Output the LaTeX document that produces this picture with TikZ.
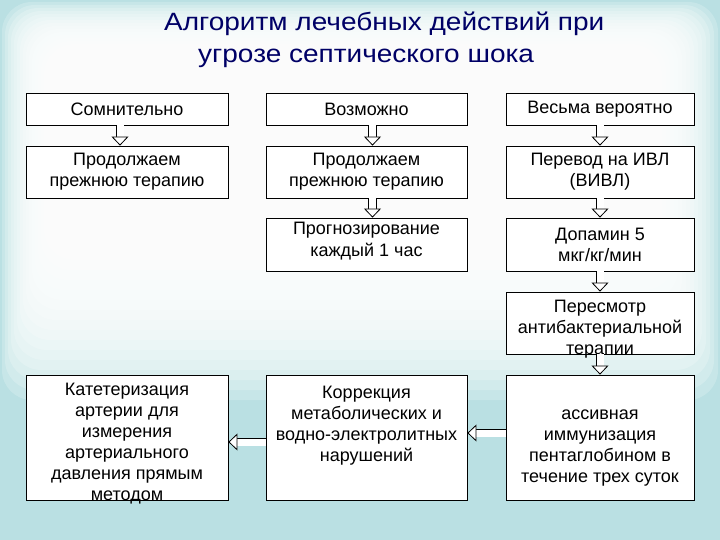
\documentclass[tikz,border=0pt]{standalone}
\usepackage{fontspec}
\setmainfont{Liberation Sans}
\newfontfamily\titlefont[FakeStretch=1.12]{Liberation Sans}
\usetikzlibrary{arrows.meta}
\definecolor{bgteal}{RGB}{186,224,227}
\definecolor{titleblue}{RGB}{0,0,102}
\begin{document}
\begin{tikzpicture}[
  x=1pt,y=-1pt,
  box/.style={draw, fill=white, line width=0.8pt, align=center, inner sep=0pt, font=\fontsize{18}{21}\selectfont},
  sunk/.style={text height=#1, text depth=0pt},
  hol/.style={double=white, double distance=7pt, line width=0.8pt, -{Triangle[fill=white, width=17pt, length=9pt, line width=0.8pt]}}
]
% background
\fill[bgteal] (0,0) rectangle (720,540);
\foreach \k in {0,...,14}
  \fill[white, opacity=0.2, rounded corners=30pt] (2+3*\k,2+3*\k) rectangle (718-4*\k,400-10*\k);
\useasboundingbox (0,0) rectangle (720,540);
% title
\node[font=\titlefont\fontsize{25}{32}\selectfont, text=titleblue, align=left, anchor=north west, inner sep=0pt] (title) at (164,12) {Алгоритм лечебных действий при\\\hspace*{34pt}угрозе септического шока};
% first row
\node[box, minimum width=202pt, minimum height=32pt] (doubt) at (127,109) {Сомнительно};
\node[box, minimum width=201pt, minimum height=32pt] (poss) at (366.5,109) {Возможно};
\node[box, minimum width=188pt, minimum height=32pt] (prob) at (600,109) {Весьма вероятно};
% second row
\node[box, minimum width=202pt, minimum height=52pt] (cont1) at (127,172) {Продолжаем\\прежнюю терапию};
\node[box, minimum width=201pt, minimum height=52pt] (cont2) at (366.5,172) {Продолжаем\\прежнюю терапию};
\node[box, minimum width=188pt, minimum height=52pt] (ivl) at (600,172) {Перевод на ИВЛ\\(ВИВЛ)};
% third and fourth row
\node[box, minimum width=201pt, minimum height=53pt, sunk=23pt] (prog) at (366.5,244.5) {Прогнозирование\\каждый 1 час};
\node[box, minimum width=188pt, minimum height=53pt] (dopa) at (600,244.5) {Допамин 5\\мкг/кг/мин};
\node[box, minimum width=188pt, minimum height=62pt, sunk=62pt] (abx) at (600,323) {Пересмотр\\антибактериальной\\терапии};
% last row
\node[box, minimum width=202pt, minimum height=125pt, sunk=125pt] (cath) at (127,437.5) {Катетеризация\\артерии для\\измерения\\артериального\\давления прямым\\методом};
\node[box, minimum width=201pt, minimum height=125pt, sunk=47pt] (corr) at (366.5,437.5) {Коррекция\\метаболических и\\водно-электролитных\\нарушений};
\node[box, minimum width=188pt, minimum height=125pt, sunk=89pt] (immun) at (600,437.5) {ассивная\\иммунизация\\пентаглобином в\\течение трех суток};
% arrows
\draw[hol] ([xshift=-7pt]doubt.south) -- ([xshift=-7pt]cont1.north);
\draw[hol] ([xshift=6pt]poss.south) -- ([xshift=6pt]cont2.north);
\draw[hol] ([xshift=6pt]cont2.south) -- ([xshift=6pt]prog.north);
\draw[hol] (prob) -- (ivl);
\draw[hol] (ivl) -- (dopa);
\draw[hol] (dopa) -- (abx);
\draw[hol] (abx) -- (immun);
\draw[hol] ([yshift=4.5pt]immun.west) -- ([yshift=4.5pt]corr.east);
\draw[hol] ([yshift=-4.5pt]corr.west) -- ([yshift=-4.5pt]cath.east);
\end{tikzpicture}
\end{document}
